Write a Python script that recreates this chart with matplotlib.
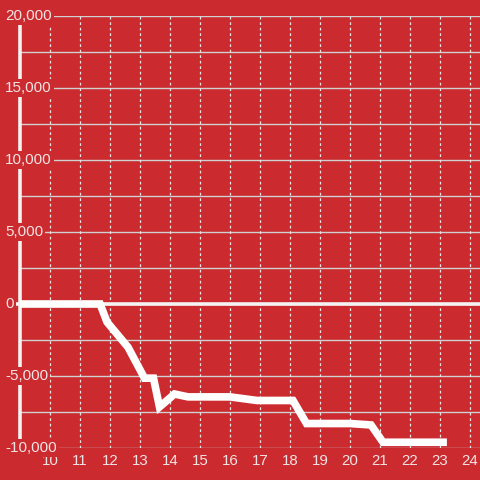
import numpy as np
import matplotlib
matplotlib.use("Agg")
import matplotlib.pyplot as plt

plt.rcParams['font.family'] = ['Liberation Sans', 'DejaVu Sans']

# data
x_vals = [9, 11.67, 11.9, 12.6, 13.15, 13.45, 13.65, 14.15, 14.6, 16.0,
          16.9, 18.1, 18.55, 20.0, 20.7, 21.1, 23.23]
y_vals = [0, 0, -1250, -3000, -5150, -5150, -7150, -6250, -6450, -6450,
          -6700, -6700, -8300, -8300, -8400, -9600, -9600]
x_ticks = list(range(10, 25))
y_ticks = [-10000, -5000, 0, 5000, 10000, 15000, 20000]
y_grid = np.arange(-10000, 20001, 2500)

bg = '#cb2a2f'
txt = '#f2e4e4'

fig = plt.figure(figsize=(4.8, 4.8), dpi=100, facecolor=bg)
ax = fig.add_axes([20 / 480, 32 / 480, 460 / 480, 432 / 480])
ax.set_facecolor(bg)
ax.set_xlim(9, 24.333)
ax.set_ylim(-10000, 20000)

# grid
ax.hlines(y_grid, 9, 24.333, colors='#d0d0d0', lw=1.0, zorder=1)
ax.vlines(x_ticks, -10000, 20000, colors='#e6e6e6', lw=0.9,
          linestyles=(0, (2.2, 2.2)), zorder=1)
ax.axhline(0, xmin=-4 / 460, color='#f4f4f4', lw=2.6, zorder=2, clip_on=False)

# data line
ax.plot(x_vals, y_vals, color='white', lw=5.5, solid_capstyle='butt',
        solid_joinstyle='miter', zorder=3)

for s in ['top', 'right', 'bottom']:
    ax.spines[s].set_visible(False)
ax.spines['left'].set_color('#f2f2f2')
ax.spines['left'].set_linewidth(2.6)
ax.spines['left'].set_bounds(-10000, 19444)
ax.spines['left'].set_zorder(1.5)

ax.set_xticks([])
ax.set_yticks([])

# y labels near the figure edge, red box masks spine/grid
for v in y_ticks:
    ax.text(-15 / 460, v, f'{v:,}', transform=ax.get_yaxis_transform(),
            ha='left', va='center', fontsize=11, color=txt, zorder=5,
            clip_on=False,
            bbox=dict(boxstyle='square,pad=0.15', fc=bg, ec='none'))

# x labels below the bottom gridline
for v in x_ticks:
    ax.text(v, -13 / 432, str(v), transform=ax.get_xaxis_transform(),
            ha='center', va='center', fontsize=10.8, color=txt,
            clip_on=False)

fig.savefig('out.png', dpi=100, facecolor=bg)
